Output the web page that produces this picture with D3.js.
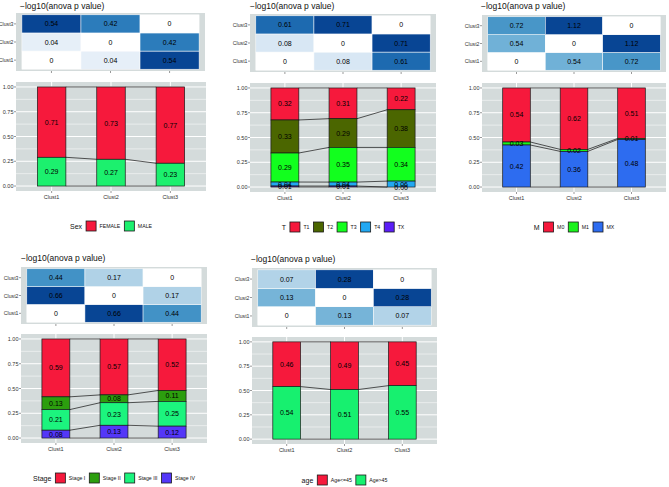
<!DOCTYPE html>
<html><head><meta charset="utf-8">
<script src="https://cdn.jsdelivr.net/npm/d3@7"></script>
<style>body{margin:0;background:#fff} svg{display:block} text{font-family:"Liberation Sans",Arial,Helvetica,sans-serif}</style>
</head><body><svg id="c" width="669" height="487"></svg>
<script>
// ---------- DATA ----------
const clusters = ["Clust1", "Clust2", "Clust3"];
const yTickValues = [0, 0.25, 0.5, 0.75, 1];
const yTickLabels = ["0.00", "0.25", "0.50", "0.75", "1.00"];
const heatTitle = "\u2212log10(anova p value)";

const sexLevels = ["FEMALE", "MALE"];
const sexProps = [[0.71, 0.73, 0.77], [0.29, 0.27, 0.23]];
const sexPval = [[0, 0.04, 0.54], [0.04, 0, 0.42], [0.54, 0.42, 0]];

const tLevels = ["T1", "T2", "T3", "T4", "TX"];
const tProps = [[0.32, 0.31, 0.22], [0.33, 0.29, 0.38], [0.29, 0.35, 0.34], [0.04, 0.04, 0.06], [0.01, 0.01, 0.00]];
const tPval = [[0, 0.08, 0.61], [0.08, 0, 0.71], [0.61, 0.71, 0]];

const mLevels = ["M0", "M1", "MX"];
const mProps = [[0.54, 0.62, 0.51], [0.03, 0.02, 0.01], [0.42, 0.36, 0.48]];
const mPval = [[0, 0.54, 0.72], [0.54, 0, 1.12], [0.72, 1.12, 0]];

const stageLevels = ["Stage I", "Stage II", "Stage III", "Stage IV"];
const stageProps = [[0.59, 0.57, 0.52], [0.13, 0.08, 0.11], [0.21, 0.23, 0.25], [0.08, 0.13, 0.12]];
const stagePval = [[0, 0.66, 0.44], [0.66, 0, 0.17], [0.44, 0.17, 0]];

const ageLevels = ["Age<=45", "Age>45"];
const ageProps = [[0.46, 0.49, 0.45], [0.54, 0.51, 0.55]];
const agePval = [[0, 0.13, 0.07], [0.13, 0, 0.28], [0.07, 0.28, 0]];

// ---------- STYLE / LAYOUT ----------
const RED = "#F6193C";
const blues = ["#FFFFFF", "#C6DBEF", "#9ECAE1", "#6BAED6", "#4292C6", "#2171B5", "#084594"];
const panelBg = "#D4DBDB";
const axisCol = "#333";

const panels = [
  { name: "Sex", levels: sexLevels, props: sexProps, pval: sexPval,
    colors: [RED, "#1CF06E"],
    title: [20, 8.5], heat: { x0: 16, x1: 205, y0: 13, y1: 71 }, bar: { x0: 16, x1: 206, y0: 82, y1: 191 }, legendY: 226 },
  { name: "T", levels: tLevels, props: tProps, pval: tPval,
    colors: [RED, "#4B6600", "#12FF1E", "#22A8F2", "#5B1EF7"],
    title: [250, 8.5], heat: { x0: 250, x1: 436, y0: 14, y1: 72 }, bar: { x0: 250, x1: 436, y0: 83, y1: 192 }, legendY: 227 },
  { name: "M", levels: mLevels, props: mProps, pval: mPval,
    colors: [RED, "#1AF21C", "#2D6CF0"],
    title: [481, 8.5], heat: { x0: 482, x1: 666, y0: 15, y1: 72 }, bar: { x0: 482, x1: 666, y0: 83, y1: 192 }, legendY: 227 },
  { name: "Stage", levels: stageLevels, props: stageProps, pval: stagePval,
    colors: [RED, "#2C9E0E", "#1CF47E", "#5437F8"],
    title: [21, 261], heat: { x0: 21, x1: 207, y0: 267, y1: 324 }, bar: { x0: 21, x1: 207, y0: 334, y1: 443 }, legendY: 478 },
  { name: "age", levels: ageLevels, props: ageProps, pval: agePval,
    colors: [RED, "#17F06F"],
    title: [251, 262], heat: { x0: 252, x1: 437, y0: 268, y1: 327 }, bar: { x0: 252, x1: 437, y0: 337, y1: 444 }, legendY: 480 }
];

const svg = d3.select("#c");

function drawPanel(cfg) {
  const g = svg.append("g");
  g.append("text").attr("x", cfg.title[0]).attr("y", cfg.title[1])
    .attr("font-size", 8.5).attr("fill", "#111").text(heatTitle);

  // ---- heatmap ----
  const H = cfg.heat;
  const hx = d3.scaleLinear().domain([0.4, 3.6]).range([H.x0, H.x1]);
  const hy = d3.scaleLinear().domain([0.4, 3.6]).range([H.y1, H.y0]);
  g.append("rect").attr("x", H.x0).attr("y", H.y0).attr("width", H.x1 - H.x0).attr("height", H.y1 - H.y0).attr("fill", panelBg);
  const max = d3.max(cfg.pval.flat());
  const color = d3.scaleLinear().domain(d3.range(7).map(i => max * i / 6)).range(blues);
  const cells = [];
  cfg.pval.forEach((row, r) => row.forEach((v, c) => cells.push({ r, c, v })));
  g.selectAll(null).data(cells).join("rect")
    .attr("x", d => hx(d.c + 0.5)).attr("y", d => hy(d.r + 1.5))
    .attr("width", d => hx(d.c + 1.5) - hx(d.c + 0.5)).attr("height", d => hy(d.r + 0.5) - hy(d.r + 1.5))
    .attr("fill", d => color(d.v)).attr("stroke", "#fff").attr("stroke-width", 0.5);
  g.selectAll(null).data(cells).join("text")
    .attr("x", d => hx(d.c + 1)).attr("y", d => hy(d.r + 1) + 2.5)
    .attr("text-anchor", "middle").attr("font-size", 7).attr("fill", "#000")
    .text(d => String(d.v));
  clusters.forEach((cl, i) => {
    g.append("line").attr("x1", H.x0 - 2).attr("x2", H.x0).attr("y1", hy(i + 1)).attr("y2", hy(i + 1)).attr("stroke", axisCol).attr("stroke-width", 0.5);
    g.append("text").attr("x", H.x0 - 2.5).attr("y", hy(i + 1) + 2).attr("text-anchor", "end")
      .attr("font-size", 5.2).attr("fill", axisCol).text(cl);
    g.append("line").attr("x1", hx(i + 1)).attr("x2", hx(i + 1)).attr("y1", H.y1).attr("y2", H.y1 + 2).attr("stroke", axisCol).attr("stroke-width", 0.5);
  });

  // ---- stacked bars ----
  const B = cfg.bar;
  const bx = d3.scaleLinear().domain([0.4, 3.6]).range([B.x0, B.x1]);
  const by = d3.scaleLinear().domain([-0.05, 1.05]).range([B.y1, B.y0]);
  g.append("rect").attr("x", B.x0).attr("y", B.y0).attr("width", B.x1 - B.x0).attr("height", B.y1 - B.y0).attr("fill", panelBg);
  [0.125, 0.375, 0.625, 0.875].forEach(v => g.append("line").attr("x1", B.x0).attr("x2", B.x1).attr("y1", by(v)).attr("y2", by(v)).attr("stroke", "#fff").attr("stroke-width", 0.5));
  yTickValues.forEach(v => g.append("line").attr("x1", B.x0).attr("x2", B.x1).attr("y1", by(v)).attr("y2", by(v)).attr("stroke", "#fff").attr("stroke-width", 1));
  clusters.forEach((c, i) => g.append("line").attr("x1", bx(i + 1)).attr("x2", bx(i + 1)).attr("y1", B.y0).attr("y2", B.y1).attr("stroke", "#fff").attr("stroke-width", 1));

  const n = cfg.levels.length;
  const hw = (bx(1.24) - bx(1));
  const bounds = clusters.map((c, j) => {
    const sum = d3.sum(cfg.props, p => p[j]);
    const b = [0];
    for (let k = n - 1; k >= 0; k--) b.push(b[b.length - 1] + cfg.props[k][j] / sum);
    return b;
  });
  const segs = [];
  clusters.forEach((c, j) => {
    for (let k = 0; k < n; k++) {
      const lo = bounds[j][n - 1 - k], hi = bounds[j][n - k];
      segs.push({ j, k, lo, hi, v: cfg.props[k][j] });
    }
  });
  g.selectAll(null).data(segs).join("rect")
    .attr("x", d => bx(d.j + 1) - hw).attr("width", 2 * hw)
    .attr("y", d => by(d.hi)).attr("height", d => by(d.lo) - by(d.hi))
    .attr("fill", d => cfg.colors[d.k]).attr("stroke", "#1a1a1a").attr("stroke-width", 0.7);
  for (let l = 0; l <= n; l++) {
    for (let j = 0; j < 2; j++) {
      g.append("line").attr("x1", bx(j + 1) + hw).attr("y1", by(bounds[j][l]))
        .attr("x2", bx(j + 2) - hw).attr("y2", by(bounds[j + 1][l]))
        .attr("stroke", "#111").attr("stroke-width", 0.7);
    }
  }
  g.selectAll(null).data(segs).join("text")
    .attr("x", d => bx(d.j + 1)).attr("y", d => by((d.lo + d.hi) / 2) + 2.5)
    .attr("text-anchor", "middle").attr("font-size", 7).attr("fill", "#000")
    .text(d => d.v.toFixed(2));
  yTickValues.forEach((v, i) => {
    g.append("line").attr("x1", B.x0 - 2).attr("x2", B.x0).attr("y1", by(v)).attr("y2", by(v)).attr("stroke", axisCol).attr("stroke-width", 0.5);
    g.append("text").attr("x", B.x0 - 2.5).attr("y", by(v) + 2).attr("text-anchor", "end")
      .attr("font-size", 5.5).attr("fill", axisCol).text(yTickLabels[i]);
  });
  clusters.forEach((cl, i) => {
    g.append("line").attr("x1", bx(i + 1)).attr("x2", bx(i + 1)).attr("y1", B.y1).attr("y2", B.y1 + 2).attr("stroke", axisCol).attr("stroke-width", 0.5);
    g.append("text").attr("x", bx(i + 1)).attr("y", B.y1 + 8).attr("text-anchor", "middle")
      .attr("font-size", 5.5).attr("fill", axisCol).text(cl);
  });

  // ---- legend ----
  const lg = g.append("g");
  const t = lg.append("text").attr("x", 0).attr("y", 2.5).attr("font-size", 7).attr("fill", "#111").text(cfg.name);
  let cur = t.node().getComputedTextLength() + 4;
  cfg.levels.forEach((lv, k) => {
    lg.append("rect").attr("x", cur).attr("y", -5).attr("width", 10).attr("height", 10)
      .attr("fill", cfg.colors[k]).attr("stroke", "#1a1a1a").attr("stroke-width", 0.8);
    cur += 13.5;
    const lt = lg.append("text").attr("x", cur).attr("y", 2).attr("font-size", 5.2).attr("fill", "#111").text(lv);
    cur += lt.node().getComputedTextLength() + 4;
  });
  const cx = (B.x0 + B.x1) / 2;
  lg.attr("transform", `translate(${cx - (cur - 4) / 2},${cfg.legendY})`);
}

panels.forEach(drawPanel);
</script></body></html>
